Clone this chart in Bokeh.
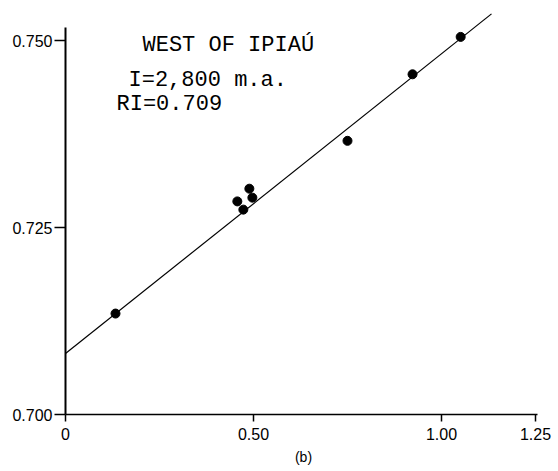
from bokeh.plotting import figure
from bokeh.models import Range1d, FixedTicker, Label
from bokeh.embed import file_html
from bokeh.resources import INLINE

# data
x_vals = [0.133, 0.457, 0.489, 0.497, 0.473, 0.750, 0.923, 1.051]
y_vals = [0.7135, 0.7285, 0.7302, 0.7290, 0.7274, 0.7366, 0.7455, 0.7505]

# isochron line
line_intercept = 0.70815
line_slope = 0.0401
line_x = [0.0, 1.133]
line_y = [line_intercept + line_slope * v for v in line_x]

x_ticks = [0.0, 0.50, 1.00, 1.25]
x_tick_labels = ["0", "0.50", "1.00", "1.25"]
y_ticks = [0.700, 0.725, 0.750]
y_tick_labels = ["0.700", "0.725", "0.750"]

title_text = "WEST OF IPIAÚ"
age_text = "I=2,800 m.a."
ri_text = "RI=0.709"
panel_text = "(b)"

p = figure(width=558, height=471, output_backend="svg", toolbar_location=None,
           x_range=Range1d(0, 1.266), y_range=Range1d(0.700, 0.7547),
           min_border_left=65, min_border_right=17, min_border_top=5,
           min_border_bottom=57)
p.outline_line_color = None
p.xgrid.visible = False
p.ygrid.visible = False
p.background_fill_color = "white"
p.border_fill_color = "white"

p.line(line_x, line_y, line_color="black", line_width=1.2)
p.scatter(x_vals, y_vals, size=9, color="black")

xa = p.xaxis[0]
xa.ticker = FixedTicker(ticks=x_ticks)
xa.major_label_overrides = {t: l for t, l in zip(x_ticks, x_tick_labels)}
xa.bounds = (0, 1.255)
xa.axis_line_width = 1.5
xa.axis_line_color = "black"
xa.major_tick_line_width = 1.5
xa.major_tick_out = 7
xa.major_tick_in = 0
xa.minor_tick_line_color = None
xa.major_label_standoff = 6
xa.major_label_text_font = "'Liberation Sans', sans-serif"
xa.major_label_text_font_size = "16px"
xa.major_label_text_color = "black"
xa.axis_label = panel_text
xa.axis_label_standoff = 6
xa.axis_label_text_font = "'Liberation Sans', sans-serif"
xa.axis_label_text_font_size = "14px"
xa.axis_label_text_font_style = "normal"
xa.axis_label_text_color = "black"

ya = p.yaxis[0]
ya.ticker = FixedTicker(ticks=y_ticks)
ya.major_label_overrides = {t: l for t, l in zip(y_ticks, y_tick_labels)}
ya.bounds = (0.700, 0.7517)
ya.axis_line_width = 2
ya.axis_line_color = "black"
ya.major_tick_line_width = 1.5
ya.major_tick_out = 11
ya.major_tick_in = 0
ya.minor_tick_line_color = None
ya.major_label_standoff = 2
ya.major_label_text_font = "'Liberation Sans', sans-serif"
ya.major_label_text_font_size = "16px"
ya.major_label_text_color = "black"

mono = dict(text_font="'Liberation Mono', monospace",
            text_font_size="22px", text_color="black",
            text_baseline="alphabetic", text_align="left")
p.add_layout(Label(x=0.2048, y=0.74933, text=title_text, **mono))
p.add_layout(Label(x=0.1676, y=0.74465, text=age_text, **mono))
p.add_layout(Label(x=0.1356, y=0.74144, text=ri_text, **mono))

open("out.html", "w").write(file_html(p, INLINE))
